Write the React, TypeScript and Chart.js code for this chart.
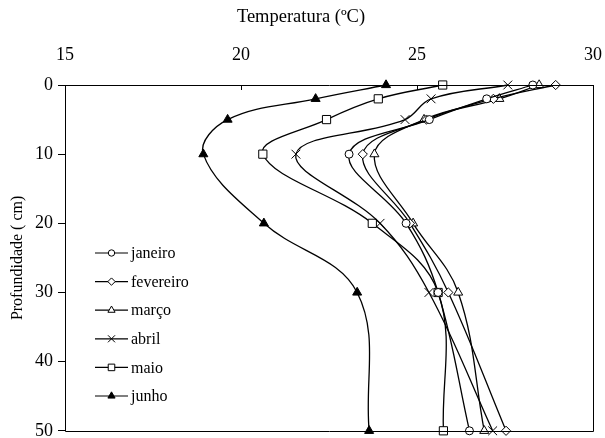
import { useEffect, useRef } from "react";
import { Chart, registerables } from "chart.js";
import { drawPoint } from "chart.js/helpers";

Chart.register(...registerables);

// Depth of each reading (cm)
const depths = [0, 2, 5, 10, 20, 30, 50];

// Soil temperature profile per month (ºC), one value per depth
const janeiro = [28.29, 26.98, 25.35, 23.07, 24.69, 25.6, 26.49];
const fevereiro = [28.94, 27.17, 25.27, 23.46, 24.8, 25.89, 27.53];
const marco = [28.47, 27.34, 25.2, 23.79, 24.89, 26.17, 26.91];
const abril = [27.58, 25.4, 24.66, 21.56, 23.95, 25.34, 27.15];
const maio = [25.73, 23.9, 22.43, 20.62, 23.73, 25.6, 25.75];
const junho = [24.12, 22.12, 19.62, 18.93, 20.65, 23.3, 23.64];

const monthNames = ["janeiro", "fevereiro", "março", "abril", "maio", "junho"];

const xTickValues = [15, 20, 25, 30];
const yTickValues = [0, 10, 20, 30, 40, 50];

const xTitle = "Temperatura (ºC)";
const yTitle = "Profundidade ( cm)";

const FONT = "'Liberation Serif', 'Times New Roman', serif";

type Marker = { style: string; radius: number; fill: string };

const markers: Marker[] = [
  { style: "circle", radius: 4, fill: "#ffffff" },
  { style: "rectRot", radius: 4.6, fill: "#ffffff" },
  { style: "triangle", radius: 5.2, fill: "#ffffff" },
  { style: "crossRot", radius: 6.2, fill: "#ffffff" },
  { style: "rect", radius: 5.8, fill: "#ffffff" },
  { style: "triangle", radius: 5.2, fill: "#000000" },
];

const series = [janeiro, fevereiro, marco, abril, maio, junho];

// Frame, inward tick marks on the top axis, the top title and the inset legend
const framePlugin = {
  id: "frameAndLegend",
  afterDraw(chart: any) {
    const { ctx, chartArea: a, scales } = chart;
    ctx.save();
    ctx.strokeStyle = "#000";
    ctx.lineWidth = 1;
    ctx.beginPath();
    ctx.rect(Math.round(a.left) + 0.5, Math.round(a.top) + 0.5, Math.round(a.right - a.left), Math.round(a.bottom - a.top));
    ctx.stroke();

    ctx.beginPath();
    xTickValues.forEach((v) => {
      const px = Math.round(scales.x.getPixelForValue(v)) + 0.5;
      ctx.moveTo(px, a.top);
      ctx.lineTo(px, a.top + 5);
    });
    ctx.stroke();

    // top axis title, set slightly left of the plot centre
    ctx.fillStyle = "#000";
    ctx.font = `18.5px ${FONT}`;
    ctx.textAlign = "center";
    ctx.textBaseline = "middle";
    ctx.fillText(xTitle, a.left + 236, 17);

    // legend
    const lx1 = a.left + 30;
    const lx2 = a.left + 63;
    const startY = a.top + 168;
    const step = 28.6;
    ctx.font = `16px ${FONT}`;
    ctx.textBaseline = "middle";
    ctx.textAlign = "left";
    monthNames.forEach((name, i) => {
      const y = startY + i * step;
      const m = markers[i];
      ctx.strokeStyle = "#000";
      ctx.lineWidth = 1.2;
      ctx.beginPath();
      ctx.moveTo(lx1, y);
      ctx.lineTo(lx2, y);
      ctx.stroke();
      ctx.fillStyle = m.fill;
      ctx.lineWidth = 1;
      drawPoint(ctx, { pointStyle: m.style as any, radius: m.radius * 0.8, rotation: 0, borderWidth: 1 }, (lx1 + lx2) / 2, y);
      ctx.fillStyle = "#000";
      ctx.fillText(name, lx2 + 3, y + 1);
    });
    ctx.restore();
  },
};

export default function App() {
  const canvasRef = useRef<HTMLCanvasElement | null>(null);

  useEffect(() => {
    const canvas = canvasRef.current;
    if (!canvas) return;

    const datasets = series.map((vals, i) => ({
      label: monthNames[i],
      data: vals.map((t, k) => ({ x: t, y: depths[k] })),
      showLine: true,
      borderColor: "#000000",
      borderWidth: 1.3,
      tension: 0.38,
      clip: false as any,
      pointStyle: markers[i].style as any,
      pointRadius: markers[i].radius,
      pointBackgroundColor: markers[i].fill,
      pointBorderColor: "#000000",
      pointBorderWidth: 1,
      fill: false,
    }));

    const chart = new Chart(canvas, {
      type: "scatter",
      data: { datasets },
      plugins: [framePlugin],
      options: {
        animation: false,
        responsive: false,
        devicePixelRatio: 1,
        layout: { padding: { top: 0, left: 0, right: 12, bottom: 6 } },
        plugins: {
          legend: { display: false },
          tooltip: { enabled: false },
        },
        scales: {
          x: {
            type: "linear",
            position: "top",
            min: 15,
            max: 30,
            afterBuildTicks: (scale: any) => {
              scale.ticks = xTickValues.map((v) => ({ value: v }));
            },
            grid: { display: false },
            border: { display: false },
            ticks: {
              color: "#000",
              font: { family: FONT, size: 18 },
              padding: 11,
              maxRotation: 0,
            },
            title: { display: false },
            afterFit: (scale: any) => {
              scale.height = 85;
              scale.paddingLeft = 0;
              scale.paddingRight = 0;
            },
          },
          y: {
            type: "linear",
            position: "left",
            reverse: true,
            min: 0,
            max: 50,
            afterBuildTicks: (scale: any) => {
              scale.ticks = yTickValues.map((v) => ({ value: v }));
            },
            grid: {
              display: true,
              drawOnChartArea: false,
              drawTicks: true,
              tickLength: 7,
              color: "#000",
            },
            border: { display: false },
            ticks: {
              color: "#000",
              font: { family: FONT, size: 18 },
              padding: 5,
            },
            title: {
              display: true,
              text: yTitle,
              color: "#000",
              font: { family: FONT, size: 16 },
              padding: { top: 8, bottom: 0 },
            },
            afterFit: (scale: any) => {
              scale.width = 65;
              scale.paddingTop = 0;
              scale.paddingBottom = 0;
            },
          },
        },
      },
    });

    return () => chart.destroy();
  }, []);

  return (
    <div style={{ position: "fixed", left: 0, top: 0, width: 605, height: 438, background: "#fff" }}>
      <canvas ref={canvasRef} width={605} height={438} />
    </div>
  );
}
